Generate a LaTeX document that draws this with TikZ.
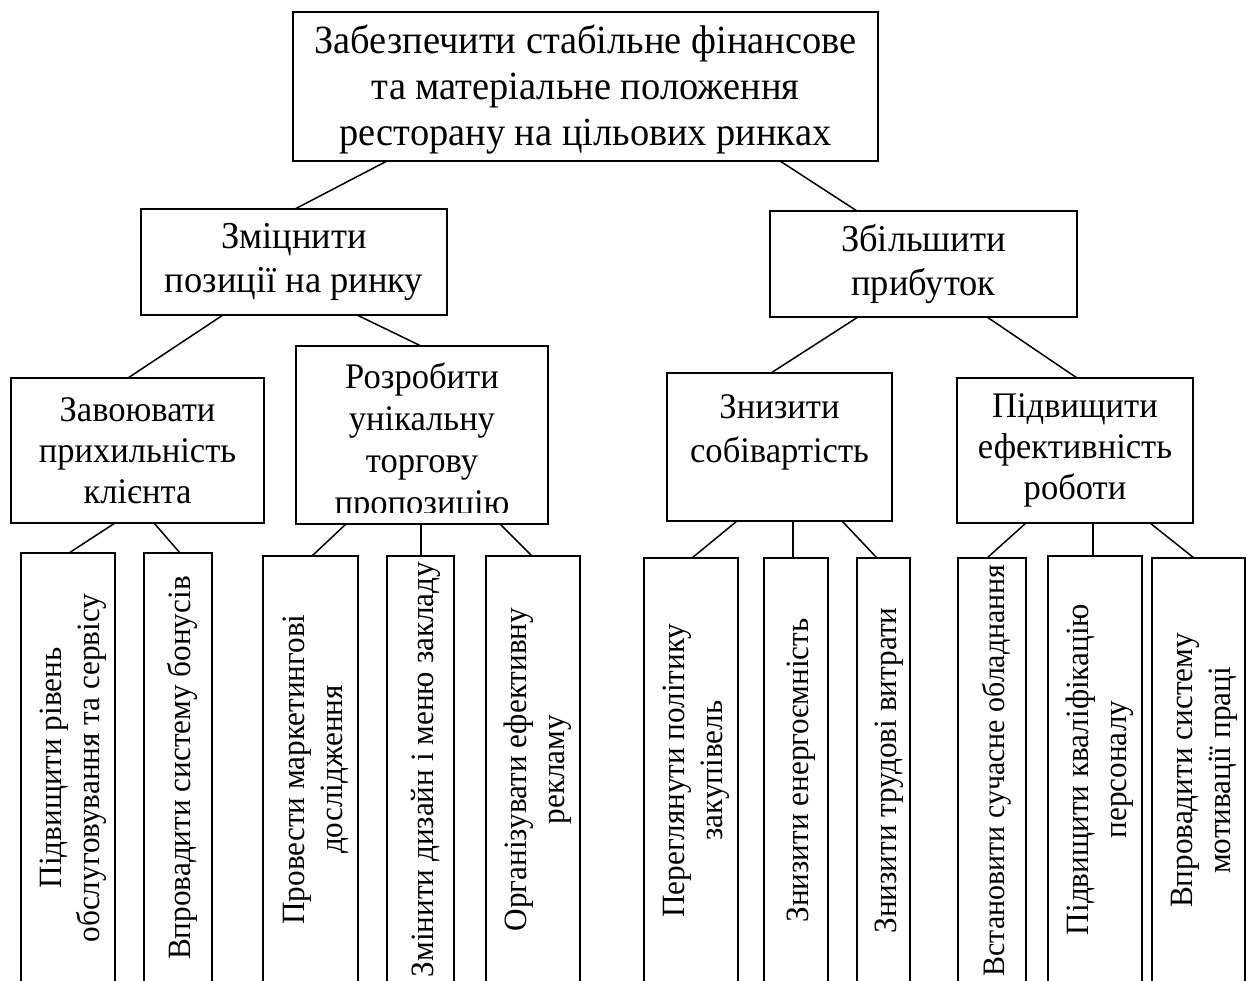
\documentclass[tikz,border=0pt]{standalone}
\usepackage{fontspec}
\setmainfont{Liberation Serif}[FakeStretch=0.96]
\usepackage{graphicx}
\newcommand\rottext[2][32.5]{\hspace{10pt}\rotatebox{90}{\fontsize{#1}{38}\selectfont\begin{tabular}{@{}c@{}}#2\end{tabular}}}
\begin{document}
\begin{tikzpicture}[x=1pt,y=-1pt,
  box/.style={draw, line width=1.8pt, inner sep=0pt, outer sep=0pt, align=center, anchor=north west},
  txt/.style={inner sep=0pt, align=center},
  link/.style={line width=1.5pt},
  tA/.style={font=\fontsize{40}{46}\selectfont},
  tB/.style={font=\fontsize{38}{44}\selectfont},
  tC/.style={font=\fontsize{36}{41}\selectfont},
  tD/.style={font=\fontsize{36}{42}\selectfont},
  tE/.style={font=\fontsize{36}{44}\selectfont}]
\useasboundingbox (0,0) rectangle (1247,981);
\clip (0,0) rectangle (1247,981);

% level 1
\node[box, minimum width=585, minimum height=149] (top) at (293,12) {};
\node[txt, tA] (toptext) at ([yshift=-3pt]top.center)
  {Забезпечити стабільне фінансове\\та матеріальне положення\\ресторану на цільових ринках};

% level 2
\node[box, tB, minimum width=306, minimum height=106] (zm) at (141,209) {Зміцнити\\позиції на ринку};
\node[box, tB, minimum width=307, minimum height=106] (zb) at (770,211) {Збільшити\\прибуток};

% level 3
\node[box, tC, minimum width=253, minimum height=145] (zv) at (11,378) {Завоювати\\прихильність\\клієнта};
\node[box, minimum width=252, minimum height=178] (rz) at (296,346) {};
\begin{scope}
  \clip (rz.north west) rectangle ([yshift=12pt]rz.south east);
  \node[txt, tD] (rztext) at ([yshift=-7pt]rz.center) {Розробити\\унікальну\\торгову\\пропозицію};
\end{scope}
\node[box, minimum width=225, minimum height=148] (zn) at (667,373) {};
\node[txt, tE] (zntext) at ([yshift=15pt]zn.center) {Знизити\\собівартість};
\node[box, tC, minimum width=236, minimum height=145] (pd) at (957,378) {Підвищити\\ефективність\\роботи};

% level 4
\node[box, minimum width=94, minimum height=430] (b1) at (21,553) {\rottext{Підвищити рівень\\обслуговування та сервісу}};
\node[box, minimum width=68, minimum height=430] (b2) at (144,553) {\rottext{Впровадити систему бонусів}};
\node[box, minimum width=95, minimum height=427] (b3) at (263,556) {\rottext{Провести маркетингові\\дослідження}};
\node[box, minimum width=67, minimum height=427] (b4) at (387,556) {\rottext{Змінити дизайн і меню закладу}};
\node[box, minimum width=94, minimum height=427] (b5) at (486,556) {\rottext{Організувати ефективну\\рекламу}};
\node[box, minimum width=94, minimum height=425] (b6) at (644,558) {\rottext{Переглянути політику\\закупівель}};
\node[box, minimum width=64, minimum height=425] (b7) at (764,558) {\rottext{Знизити енергоємність}};
\node[box, minimum width=53, minimum height=425] (b8) at (857,558) {\rottext{Знизити трудові витрати}};
\node[box, minimum width=68, minimum height=425] (b9) at (958,558) {\rottext[31.2]{Встановити сучасне обладнання}};
\node[box, minimum width=94, minimum height=427] (b10) at (1048,556) {\rottext{Підвищити кваліфікацію\\персоналу}};
\node[box, minimum width=93, minimum height=425] (b11) at (1152,558) {\rottext{Впровадити систему\\мотивації праці}};

% connectors
\draw[link] ([xshift=94pt]top.south west) -- ([xshift=154pt]zm.north west);
\draw[link] ([xshift=487pt]top.south west) -- ([xshift=87pt]zb.north west);
\draw[link] ([xshift=82pt]zm.south west) -- ([xshift=117pt]zv.north west);
\draw[link] ([xshift=216pt]zm.south west) -- ([xshift=125pt]rz.north west);
\draw[link] ([xshift=88pt]zb.south west) -- ([xshift=104pt]zn.north west);
\draw[link] ([xshift=217pt]zb.south west) -- ([xshift=120pt]pd.north west);
\draw[link] ([xshift=104pt]zv.south west) -- ([xshift=48pt]b1.north west);
\draw[link] ([xshift=143pt]zv.south west) -- ([xshift=36pt]b2.north west);
\draw[link] ([xshift=50pt]rz.south west) -- ([xshift=49pt]b3.north west);
\draw[link] ([xshift=125pt]rz.south west) -- ([xshift=34pt]b4.north west);
\draw[link] ([xshift=204pt]rz.south west) -- ([xshift=46pt]b5.north west);
\draw[link] ([xshift=70pt]zn.south west) -- ([xshift=48pt]b6.north west);
\draw[link] ([xshift=126pt]zn.south west) -- ([xshift=29pt]b7.north west);
\draw[link] ([xshift=175pt]zn.south west) -- ([xshift=20pt]b8.north west);
\draw[link] ([xshift=69pt]pd.south west) -- ([xshift=29pt]b9.north west);
\draw[link] ([xshift=136pt]pd.south west) -- ([xshift=45pt]b10.north west);
\draw[link] ([xshift=193pt]pd.south west) -- ([xshift=42pt]b11.north west);
\end{tikzpicture}
\end{document}
